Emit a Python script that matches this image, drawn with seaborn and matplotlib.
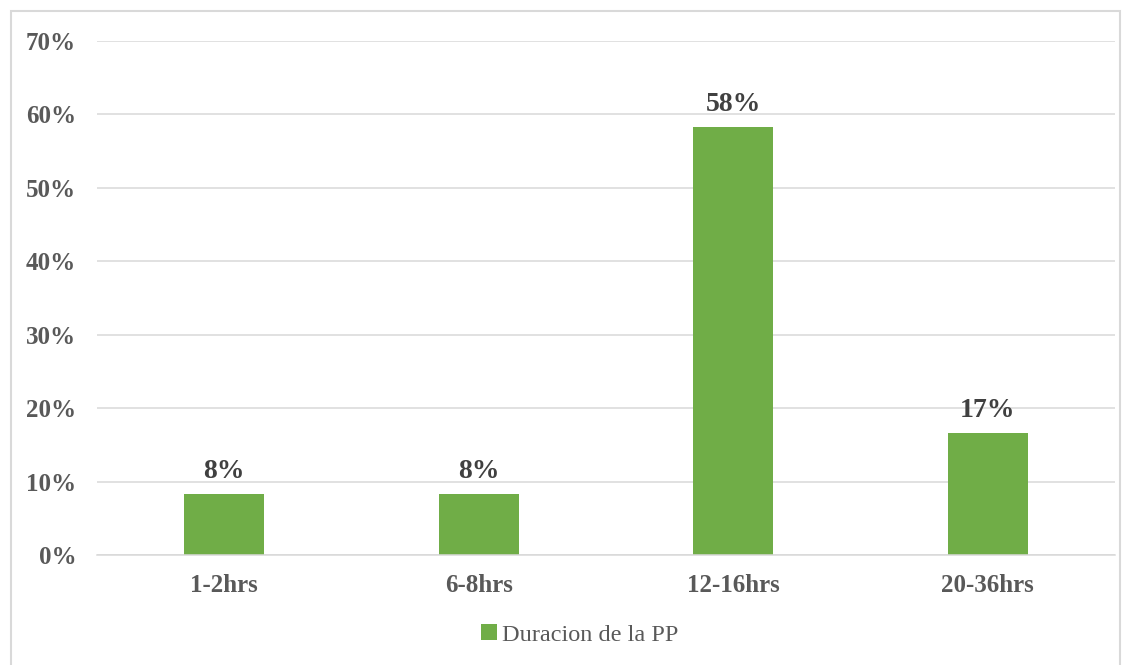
import matplotlib
matplotlib.use("Agg")
import matplotlib.pyplot as plt
from matplotlib.patches import Rectangle
import seaborn as sns
import pandas as pd

# Duración de la precipitación: share of events per duration class
categories = ["1-2hrs", "6-8hrs", "12-16hrs", "20-36hrs"]
values = [8.33, 8.33, 58.33, 16.67]
series_name = "Duracion de la PP"
y_ticks = [0, 10, 20, 30, 40, 50, 60, 70]

sns.set_theme(style="white")
plt.rcParams["font.family"] = ["Liberation Serif", "DejaVu Serif"]

df = pd.DataFrame({"Duracion": categories, "Porcentaje": values, "Serie": series_name})

W, H = 1130, 665
fig = plt.figure(figsize=(W / 100, H / 100), dpi=100)
ax = fig.add_axes([97 / W, 1 - 555 / H, (1115 - 97) / W, (555 - 41) / H])

green = "#70AD47"
sns.barplot(data=df, x="Duracion", y="Porcentaje", hue="Serie", palette=[green],
            width=0.314, ax=ax, saturation=1, legend=False, linewidth=0)

ax.set_ylim(0, 70)
ax.set_xlim(-0.5, len(categories) - 0.5)
ax.set_yticks(y_ticks)
ax.set_yticklabels([f"{t}%" for t in y_ticks])
ax.yaxis.grid(True, color="#D9D9D9", linewidth=1.1)
ax.set_axisbelow(True)
for side in ["left", "right", "top"]:
    ax.spines[side].set_visible(False)
ax.spines["bottom"].set_color("#D9D9D9")
ax.spines["bottom"].set_linewidth(1.1)
ax.tick_params(axis="both", length=0, labelsize=18, labelcolor="#595959")
ax.tick_params(axis="y", pad=15)
ax.tick_params(axis="x", pad=14)
for lbl in ax.get_xticklabels() + ax.get_yticklabels():
    lbl.set_fontweight("bold")
ax.set_xlabel("")
ax.set_ylabel("")

# value labels above each bar
for container in ax.containers:
    ax.bar_label(container, labels=[f"{v:.0f}%" for v in container.datavalues],
                 padding=7, fontsize=20, fontweight="bold", color="#404040")

# legend below the axes
handle = Rectangle((0, 0), 1, 1, facecolor=green, edgecolor="none")
fig.legend([handle], [series_name], loc="center", bbox_to_anchor=(0.513, 1 - 635 / H),
           frameon=False, fontsize=17.5, handlelength=0.65, handleheight=0.65,
           handletextpad=0.2, labelcolor="#595959")

# chart border
fig.patches.append(Rectangle((11 / W, -0.05), (1120 - 11) / W, 1.05 - 11 / H,
                             transform=fig.transFigure, fill=False,
                             edgecolor="#D9D9D9", linewidth=1.5))

fig.savefig("out.png", dpi=100)
